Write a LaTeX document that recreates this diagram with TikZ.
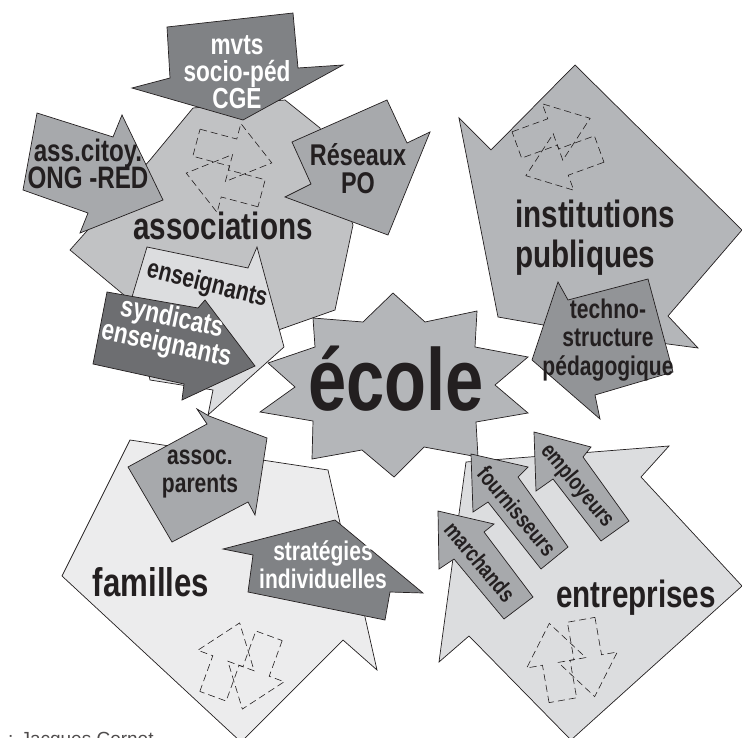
\documentclass[tikz,border=0pt]{standalone}
\usepackage{fontspec}
\setmainfont{Liberation Sans}
\newfontfamily\cnd{Liberation Sans}[FakeStretch=0.78]
\definecolor{ink}{HTML}{231F20}
\definecolor{gDark}{HTML}{6D6E71}
\definecolor{gDeep}{HTML}{808285}
\definecolor{gMid}{HTML}{929497}
\definecolor{gArrow}{HTML}{A7A9AC}
\definecolor{gInst}{HTML}{B4B6B9}
\definecolor{gAssoc}{HTML}{C1C2C4}
\definecolor{gLight}{HTML}{DCDDDF}
\definecolor{gPale}{HTML}{ECECED}
\setlength{\lineskiplimit}{-100pt}
\newcommand{\sz}[2]{\fontsize{#1}{#2}\selectfont}
\newcommand{\swapicon}[3]{%
  \begin{scope}[shift={(#1,#2)}, rotate=#3]
    \draw[dashicon] (-38,-30) -- (0,-30) -- (0,-46) -- (40,-16) -- (0,14) -- (0,-2) -- (-38,-2) -- cycle;
    \draw[dashicon] (38,30) -- (0,30) -- (0,46) -- (-40,16) -- (0,-14) -- (0,2) -- (38,2) -- cycle;
  \end{scope}}

\begin{document}
\begin{tikzpicture}[x=1pt, y=-1pt,
    blob/.style={draw=ink, line width=0.7pt, line join=miter},
    dashicon/.style={draw=ink, line width=0.6pt, dash pattern=on 7pt off 4pt},
    lbl/.style={text=ink, inner sep=0pt, align=center},
    wlbl/.style={lbl, text=white}
]
    \useasboundingbox (0,0) rectangle (742,738);

    % associations
    \filldraw[blob, fill=gAssoc] (70,250) -- (150,160) -- (193,108) -- (285,100) -- (320,128) -- (353,225) -- (335,310) -- (250,340) -- (130,300) -- cycle;
    \swapicon{229}{168}{-15}
    \filldraw[blob, fill=gDeep] (167,27) -- (293,13) -- (298,68) -- (343,65) -- (243,120) -- (132,88) -- (170,78) -- cycle;
    \filldraw[blob, fill=gArrow] (37,113) -- (113,137) -- (122,115) -- (163,200) -- (80,233) -- (88,213) -- (23,190) -- cycle;
    \filldraw[blob, fill=gArrow] (292,142) -- (387,100) -- (407,143) -- (430,132) -- (388,235) -- (285,197) -- (311,184) -- cycle;
    \filldraw[blob, fill=gLight] (147,247) -- (248,268) -- (257,247) -- (284,347) -- (208,415) -- (213,390) -- (150,380) -- (132,297) -- cycle;
    \filldraw[blob, fill=gDark] (107,292) -- (198,308) -- (205,300) -- (255,366) -- (182,400) -- (184,384) -- (93,364) -- cycle;

    % institutions
    \filldraw[blob, fill=gInst] (575,65) -- (742,230) -- (668,316) -- (698,348) -- (600,335) -- (498,317) -- (459,118) -- (491,150) -- cycle;
    \swapicon{558}{147}{20}
    \filldraw[blob, fill=gMid] (558,282) -- (568,300) -- (648,279) -- (673,372) -- (595,395) -- (600,419) -- (532,360) -- cycle;

    % ecole
    \filldraw[blob, fill=gInst] (393,293) -- (425,322) -- (477,311) -- (475,347) -- (528,357) -- (495,385) -- (528,413) -- (476,422) -- (478,457) -- (424,447) -- (394,477) -- (362,450) -- (312,459) -- (313,421) -- (260,412) -- (295,387) -- (268,363) -- (315,347) -- (313,318) -- (363,322) -- cycle;

    % familles
    \filldraw[blob, fill=gPale] (62,576) -- (130,440) -- (328,470) -- (340,523) -- (365,617) -- (377,670) -- (343,640) -- (241,742) -- cycle;
    \swapicon{241}{666}{70}
    \filldraw[blob, fill=gArrow] (128,467) -- (207,424) -- (197,409) -- (209,416) -- (267,438) -- (257,503) -- (255,515) -- (248,502) -- (172,542) -- cycle;
    \filldraw[blob, fill=gDeep] (223,549) -- (335,520) -- (423,593) -- (390,592) -- (385,620) -- (248,592) -- (253,555) -- cycle;

    % entreprises
    \filldraw[blob, fill=gLight] (466,462) -- (669,446) -- (641,477) -- (742,586) -- (571,740) -- (469,636) -- (439,662) -- cycle;
    \swapicon{572}{660}{-80}
    \filldraw[blob, fill=gArrow] (438,511) -- (494,524) -- (484,532) -- (533,597) -- (504,619) -- (454,559) -- (439,569) -- cycle;
    \filldraw[blob, fill=gArrow] (471,454) -- (528,467) -- (518,477) -- (568,547) -- (541,569) -- (488,502) -- (473,512) -- cycle;
    \filldraw[blob, fill=gArrow] (534,432) -- (591,447) -- (583,457) -- (629,521) -- (601,541) -- (553,479) -- (536,491) -- cycle;

    % labels
    \node[wlbl, font=\cnd\bfseries\sz{29}{27}] (mvts) at (237,72) {mvts\\socio-péd\\CGE};
    \node[lbl, font=\cnd\bfseries\sz{31}{27}] (citoy) at (88,164) {ass.citoy.\\ONG -RED};
    \node[lbl, font=\cnd\bfseries\sz{30}{28}] (reseaux) at (358,169) {Réseaux\\PO};
    \node[lbl, font=\cnd\bfseries\sz{38}{38}, anchor=base] (assoc) at (223,240) {associations};
    \node[lbl, font=\cnd\bfseries\sz{27}{27}, rotate=-14] (ens) at (207,285) {enseignants};
    \node[wlbl, font=\cnd\bfseries\sz{29}{27}, rotate=-12] (synd) at (169,332) {syndicats\\enseignants};
    \node[lbl, font=\cnd\bfseries\sz{38}{40}, align=left, anchor=west] (inst) at (515,238) {institutions\\publiques};
    \node[lbl, font=\cnd\bfseries\sz{27}{28.5}] (techno) at (608,340) {techno-\\structure\\pédagogique};
    \node[lbl, font=\cnd\bfseries\sz{88}{88}, anchor=base] (ecole) at (396,410) {école};
    \node[lbl, font=\cnd\bfseries\sz{27}{28}] (parents) at (200,474) {assoc.\\parents};
    \node[lbl, font=\cnd\bfseries\sz{40}{40}, anchor=base] (fam) at (151,596) {familles};
    \node[wlbl, font=\cnd\bfseries\sz{27}{28}] (strat) at (323,565) {stratégies\\individuelles};
    \node[lbl, font=\cnd\bfseries\sz{38}{38}, anchor=base] (entr) at (636,607) {entreprises};
    \node[lbl, font=\cnd\bfseries\sz{23}{23}, rotate=-50] (march) at (480,562) {marchands};
    \node[lbl, font=\cnd\bfseries\sz{23}{23}, rotate=-50] (fourn) at (517,511) {fournisseurs};
    \node[lbl, font=\cnd\bfseries\sz{23}{23}, rotate=-50] (empl) at (577,486) {employeurs};
    \node[text=ink!80, inner sep=0pt, font=\sz{19}{19}, anchor=base west] (credit) at (8,745) {: Jacques Cornet};
\end{tikzpicture}
\end{document}
